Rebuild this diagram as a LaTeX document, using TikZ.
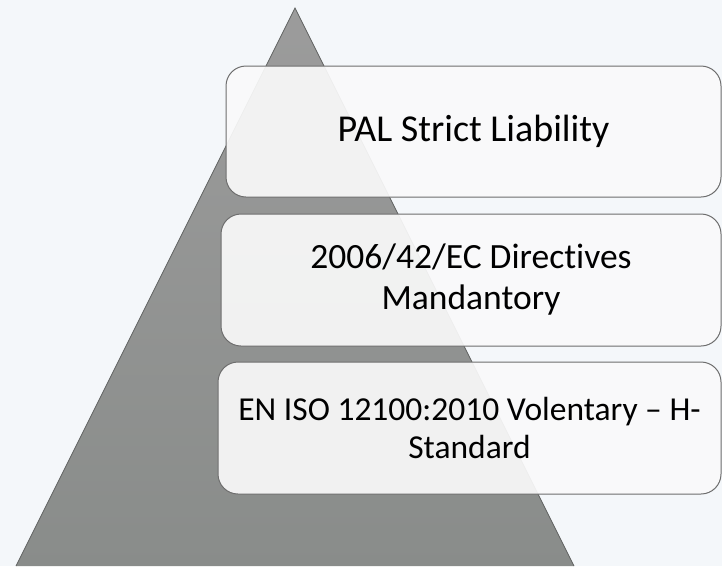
\documentclass[tikz,border=0pt]{standalone}
\usepackage{fontspec}
\setmainfont[Ligatures=NoCommon]{Carlito}
\definecolor{bgc}{RGB}{244,247,250}
\definecolor{tritop}{RGB}{156,156,156}
\definecolor{tribot}{RGB}{137,140,138}
\definecolor{triline}{RGB}{95,97,96}
\definecolor{boxline}{RGB}{110,110,110}
\definecolor{boxfill}{RGB}{250,250,250}
\tikzset{
  listbox/.style={draw=boxline, line width=1pt, fill=boxfill, fill opacity=0.92, text opacity=1,
    rounded corners=20pt, align=center, inner sep=0pt, text=black}
}
\begin{document}
\begin{tikzpicture}[x=1pt,y=-1pt]
  \fill[bgc] (0,0) rectangle (722,566);
  \useasboundingbox (0,0) rectangle (722,566);
  \begin{scope}
    \clip (295,8) -- (574,566) -- (16,566) -- cycle;
    \shade[top color=tritop, bottom color=tribot] (0,0) rectangle (722,570);
  \end{scope}
  \draw[triline, line width=0.8pt] (16,566) -- (295,8) -- (574,566);
  \node[listbox, minimum width=495pt, minimum height=131pt, font=\fontsize{38}{46}\selectfont] (b1) at (473.5,131.5) {PAL Strict Liability};
  \node[listbox, minimum width=500pt, minimum height=132pt, font=\fontsize{35.5}{41}\selectfont] (b2) at (471,280) {2006/42/EC Directives\\Mandantory};
  \node[listbox, minimum width=503pt, minimum height=132pt, font=\fontsize{33.5}{38}\selectfont] (b3) at (469.5,428) {EN ISO 12100:2010 Volentary – H-\\Standard};
\end{tikzpicture}
\end{document}
